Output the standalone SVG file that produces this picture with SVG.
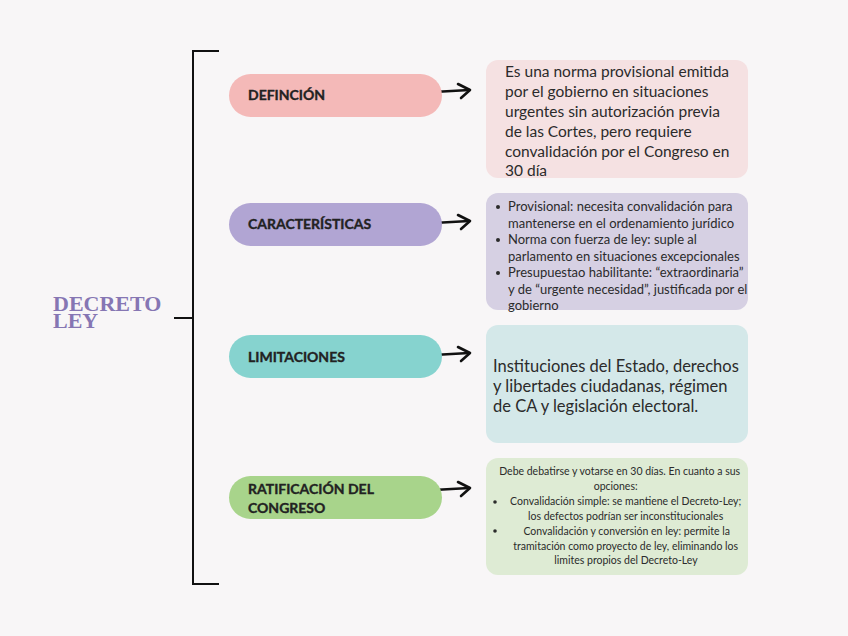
<svg xmlns="http://www.w3.org/2000/svg" width="848" height="636" viewBox="0 0 848 636">
<style>
.pill-label{font-family:Lato,"Liberation Sans",sans-serif;font-weight:700;font-size:14px;fill:#222;stroke:#222;stroke-width:0.35px;}
.body{font-family:Lato,"Liberation Sans",sans-serif;fill:#2b2b2b;}
.arrow{fill:none;stroke:#111;stroke-width:2.6;stroke-linecap:round;stroke-linejoin:round;}
.bracket{fill:none;stroke:#111;stroke-width:2;}
</style>
<defs>
<g id="arr"><path class="arrow" d="M0,1.5 L44,-1"/><path class="arrow" d="M33,-7 L45,-1 L36,7"/></g>
</defs>
<rect width="848" height="636" fill="#f8f6f7"/>

<g id="root">
<text x="53" y="311" font-family="'Liberation Serif',serif" font-weight="700" font-size="22" fill="#8676b3">DECRETO</text>
<text x="53" y="328" font-family="'Liberation Serif',serif" font-weight="700" font-size="22" fill="#8676b3">LEY</text>
</g>

<g id="connectors">
<path class="bracket" d="M219,51 H193 V584 H219"/>
<path class="bracket" d="M174,318 H193"/>
<use href="#arr" transform="translate(425,91)"/>
<use href="#arr" transform="translate(425,222)"/>
<use href="#arr" transform="translate(425,354)"/>
<use href="#arr" transform="translate(425,489)"/>
</g>

<g id="definicion">
<rect x="229" y="74" width="213" height="43" rx="21.5" fill="#f4b9b8"/>
<text class="pill-label" x="248" y="100">DEFINCIÓN</text>
</g>
<g id="caracteristicas">
<rect x="229" y="203" width="213" height="43" rx="21.5" fill="#b1a5d3"/>
<text class="pill-label" x="248" y="229">CARACTERÍSTICAS</text>
</g>
<g id="limitaciones">
<rect x="229" y="335" width="213" height="43" rx="21.5" fill="#86d3cf"/>
<text class="pill-label" x="248" y="362">LIMITACIONES</text>
</g>
<g id="ratificacion">
<rect x="229" y="476" width="213" height="43" rx="21.5" fill="#a8d48b"/>
<text class="pill-label" x="248" y="494">RATIFICACIÓN DEL</text>
<text class="pill-label" x="248" y="513">CONGRESO</text>
</g>

<g id="box-definicion">
<rect x="486" y="60" width="262" height="118" rx="12" fill="#f5e1e2"/>
<text class="body" font-size="15.5">
<tspan x="505" y="77">Es una norma provisional emitida</tspan>
<tspan x="505" y="97">por el gobierno en situaciones</tspan>
<tspan x="505" y="117">urgentes sin autorización previa</tspan>
<tspan x="505" y="137">de las Cortes, pero requiere</tspan>
<tspan x="505" y="157">convalidación por el Congreso en</tspan>
<tspan x="505" y="176">30 día</tspan>
</text>
</g>

<g id="box-caracteristicas">
<rect x="486" y="193" width="262" height="117" rx="12" fill="#d6d0e3"/>
<g fill="#2b2b2b"><circle cx="498" cy="207" r="2"/><circle cx="498" cy="240" r="2"/><circle cx="498" cy="273" r="2"/></g>
<text class="body" font-size="13">
<tspan x="508" y="211">Provisional: necesita convalidación para</tspan>
<tspan x="508" y="228">mantenerse en el ordenamiento jurídico</tspan>
<tspan x="508" y="244">Norma con fuerza de ley: suple al</tspan>
<tspan x="508" y="261">parlamento en situaciones excepcionales</tspan>
<tspan x="508" y="277">Presupuestao habilitante: “extraordinaria”</tspan>
<tspan x="508" y="294">y de “urgente necesidad”, justificada por el</tspan>
<tspan x="508" y="310">gobierno</tspan>
</text>
</g>

<g id="box-limitaciones">
<rect x="486" y="325" width="262" height="118" rx="12" fill="#d4e8e9"/>
<text class="body" font-size="16.5">
<tspan x="493" y="372">Instituciones del Estado, derechos</tspan>
<tspan x="493" y="392">y libertades ciudadanas, régimen</tspan>
<tspan x="493" y="412">de CA y legislación electoral.</tspan>
</text>
</g>

<g id="box-ratificacion">
<rect x="486" y="458" width="262" height="117" rx="12" fill="#deebd4"/>
<g fill="#2b2b2b"><circle cx="495" cy="502" r="1.8"/><circle cx="495" cy="531" r="1.8"/></g>
<text class="body" font-size="10.5" text-anchor="middle">
<tspan x="621" y="475">Debe debatirse y votarse en  30 días. En cuanto a sus</tspan>
<tspan x="617" y="490">opciones:</tspan>
<tspan x="627" y="505">Convalidación simple: se mantiene el Decreto-Ley;</tspan>
<tspan x="627" y="520">los defectos podrían ser inconstitucionales</tspan>
<tspan x="628" y="535">Convalidación y conversión en ley: permite la</tspan>
<tspan x="627" y="550">tramitación como proyecto de ley, eliminando los</tspan>
<tspan x="626" y="564">limites propios del Decreto-Ley</tspan>
</text>
</g>
</svg>
